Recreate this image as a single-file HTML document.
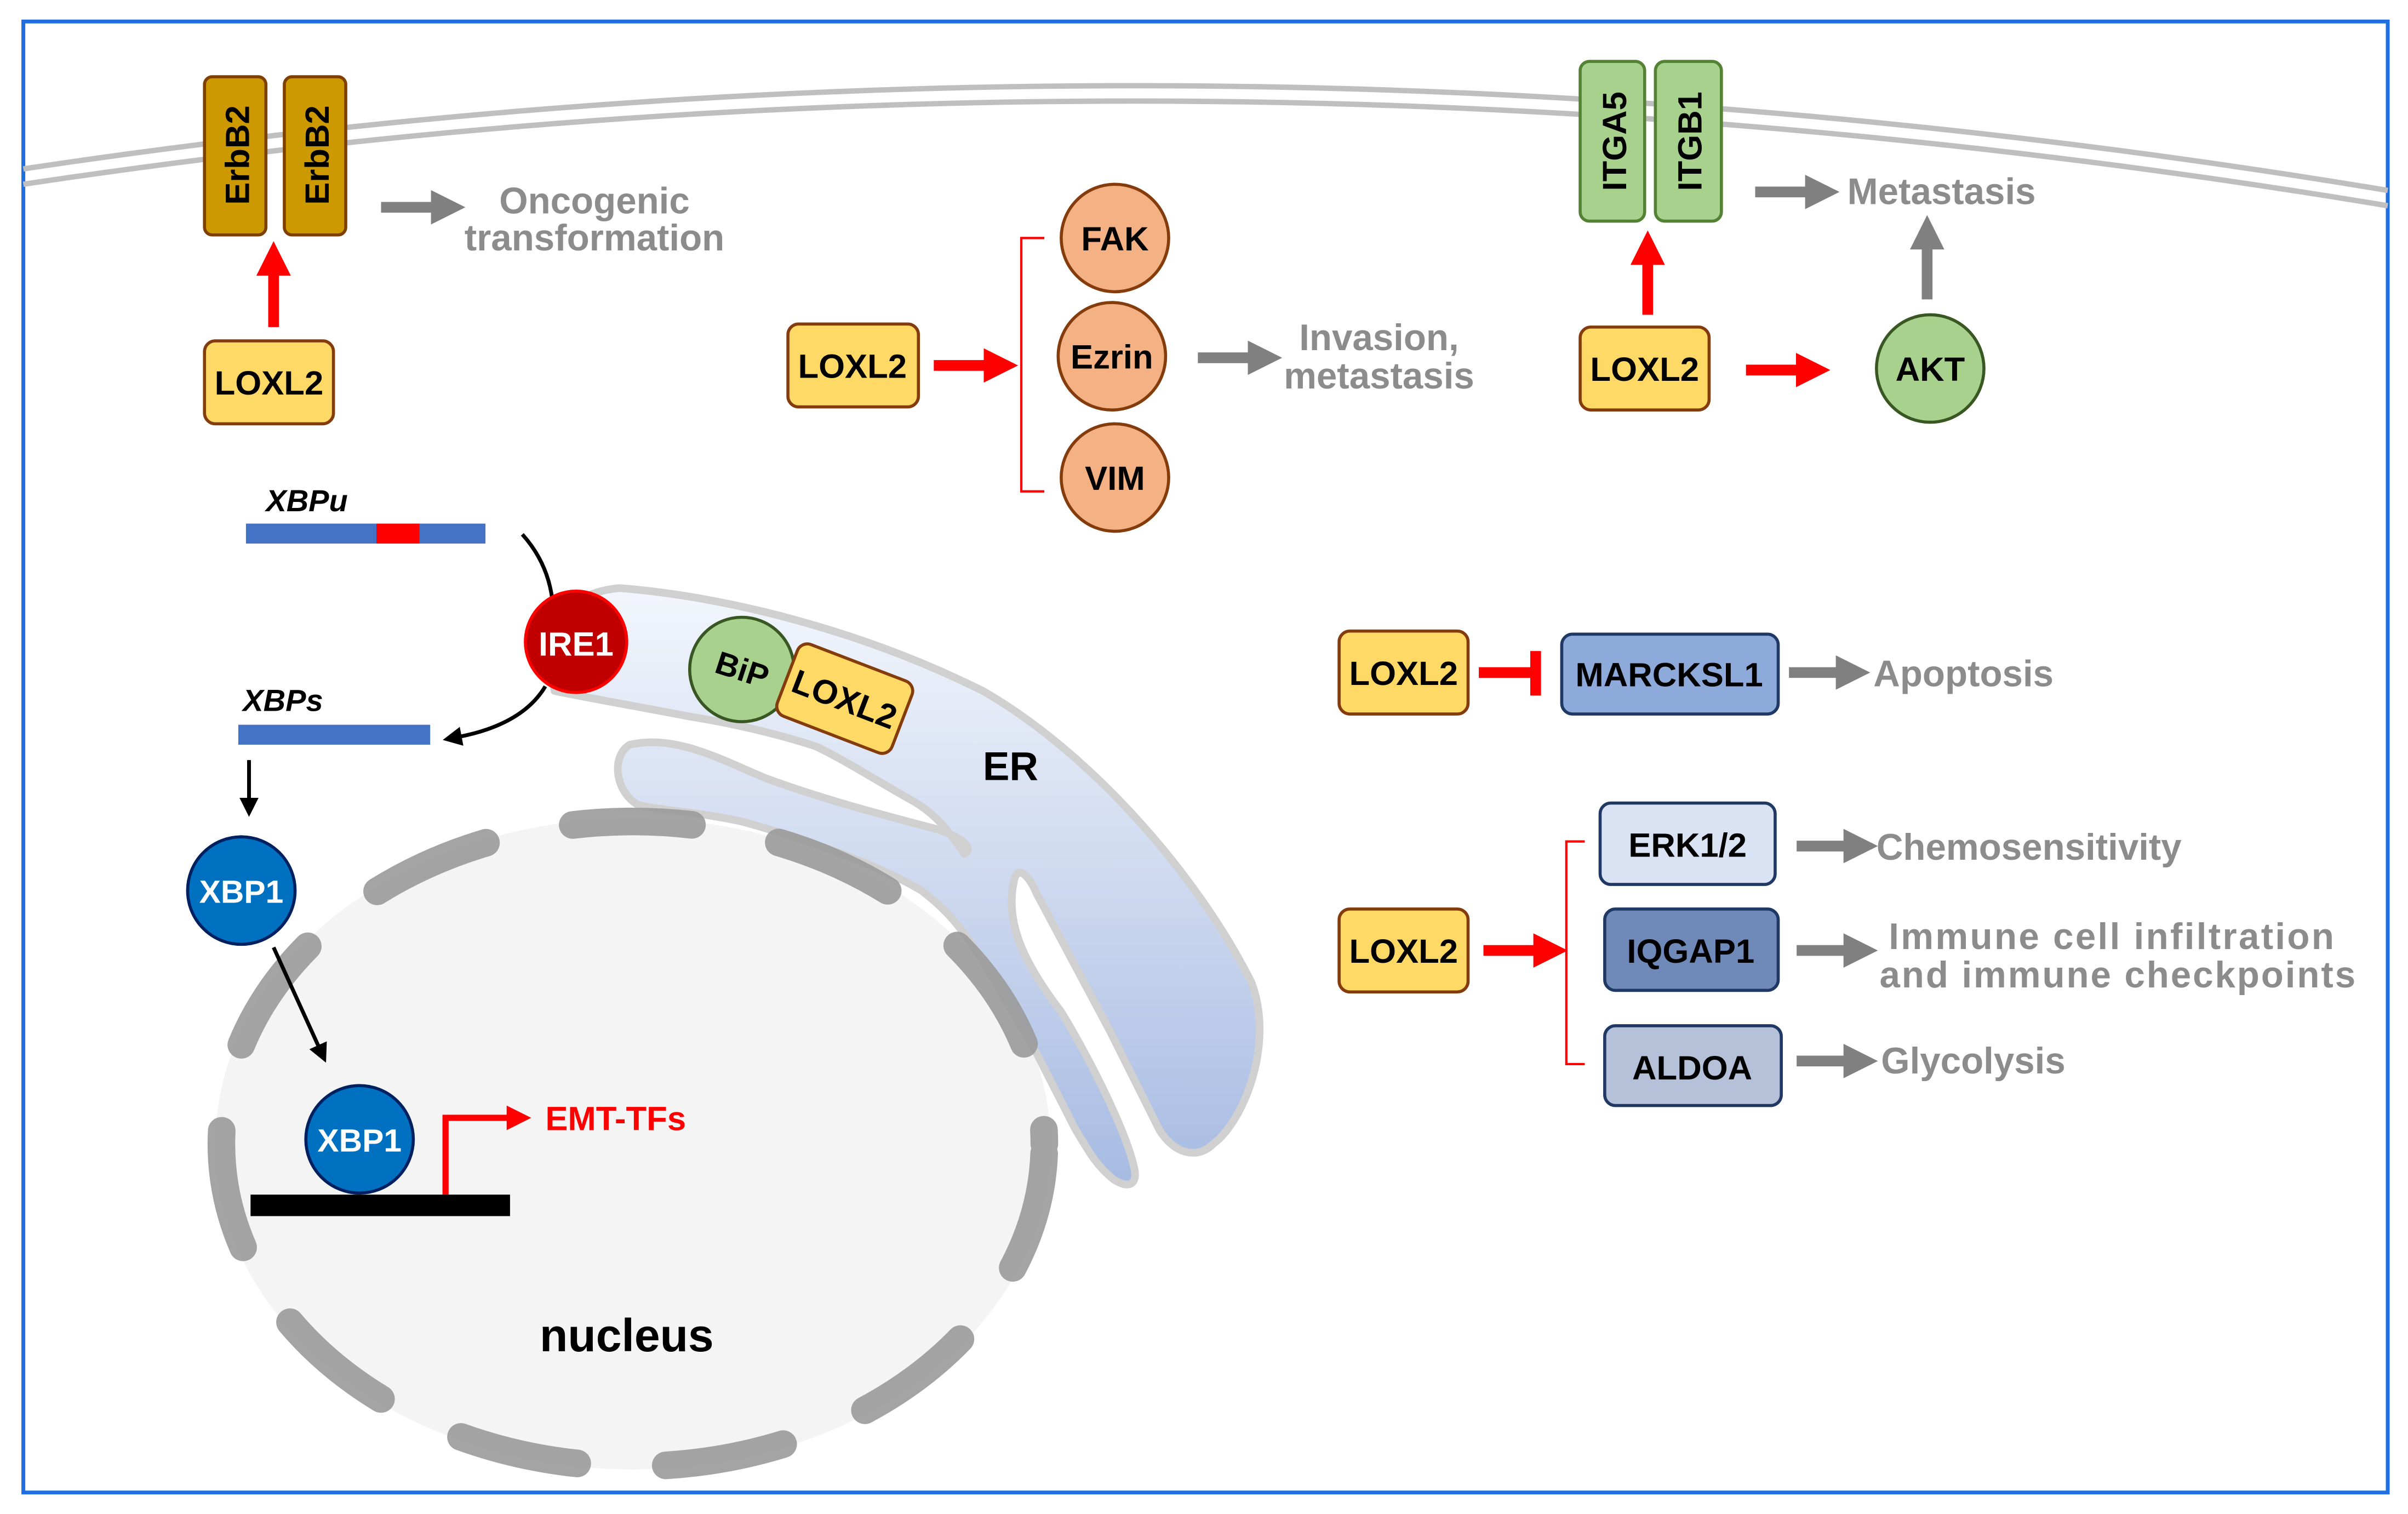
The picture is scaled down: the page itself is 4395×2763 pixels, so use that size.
<!DOCTYPE html>
<html><head><meta charset="utf-8"><style>
html,body{margin:0;padding:0;background:#fff;}
svg{display:block;}
text{font-family:"Liberation Sans",sans-serif;font-weight:bold;}
</style></head><body>
<svg width="4395" height="2763" viewBox="0 0 1568 986" xmlns="http://www.w3.org/2000/svg">
<defs>
<linearGradient id="erg" x1="0" y1="0" x2="0" y2="1"><stop offset="0" stop-color="#f3f6fc"/><stop offset="1" stop-color="#a7bbe2"/></linearGradient>
<marker id="ag" viewBox="0 0 10 10" refX="2" refY="5" markerWidth="3.2" markerHeight="3.2" orient="auto"><path d="M0,0 L10,5 L0,10 z" fill="#808080"/></marker>
<marker id="ar" viewBox="0 0 10 10" refX="2" refY="5" markerWidth="3.2" markerHeight="3.2" orient="auto"><path d="M0,0 L10,5 L0,10 z" fill="#ff0000"/></marker>
<marker id="ab" viewBox="0 0 10 10" refX="2" refY="5" markerWidth="5" markerHeight="5" orient="auto"><path d="M0,0 L10,5 L0,10 z" fill="#000"/></marker>
<marker id="ar2" viewBox="0 0 10 10" refX="2" refY="5" markerWidth="4" markerHeight="4" orient="auto"><path d="M0,0 L10,5 L0,10 z" fill="#ff0000"/></marker>
</defs>
<rect x="15" y="14" width="1540" height="958" fill="#fff" stroke="#1f6fe0" stroke-width="2.5"/>
<!-- membrane -->
<path d="M15,110 Q780,-5 1555,124" fill="none" stroke="#bfbfbf" stroke-width="3.5"/>
<path d="M15,120 Q780,5 1555,134" fill="none" stroke="#bfbfbf" stroke-width="3.5"/>

<!-- nucleus -->
<ellipse cx="412" cy="745" rx="272" ry="212" fill="#f4f4f4"/>
<!-- ER -->
<path d="M361,450 C355,420 360,387 403,383 C470,388 560,410 640,450 C710,490 780,570 815,640 C830,680 810,730 790,745 C780,755 765,752 755,736 L723,672 L675,582 C670,570 662,562 660,575 C655,600 665,625 691,659 C710,690 735,740 739,763 C740,772 734,774 725,768 C715,760 710,752 700,735 L675,686 L643,631 C630,610 620,595 600,580 C575,565 530,548 483,535 C450,528 430,528 415,524 C400,515 398,492 410,485 C440,478 470,495 499,507 C540,522 580,532 610,540 C625,545 635,552 628,556 C620,545 612,532 595,522 C570,508 550,495 531,486 C500,476 470,470 451,467 C420,461 385,455 361,450 Z" fill="url(#erg)" stroke="#d0d0d0" stroke-width="5" stroke-linejoin="round"/>
<ellipse cx="412" cy="745" rx="268" ry="210" fill="none" stroke="#9a9a9a" stroke-opacity="0.9" stroke-width="18" stroke-linecap="round" pathLength="1200" stroke-dasharray="62 46" stroke-dashoffset="-5"/>
<text x="408" y="880" font-size="30" text-anchor="middle" fill="#000">nucleus</text>
<text x="658" y="508" font-size="26" text-anchor="middle" fill="#000">ER</text>

<!-- ErbB2 -->
<rect x="133" y="50" width="40" height="103" rx="5" fill="#cc9900" stroke="#7f3f00" stroke-width="2"/>
<rect x="185" y="50" width="40" height="103" rx="5" fill="#cc9900" stroke="#7f3f00" stroke-width="2"/>
<text transform="translate(162,101) rotate(-90)" font-size="22" text-anchor="middle" fill="#000">ErbB2</text>
<text transform="translate(214,101) rotate(-90)" font-size="22" text-anchor="middle" fill="#000">ErbB2</text>
<line x1="248" y1="135" x2="285" y2="135" stroke="#808080" stroke-width="7" marker-end="url(#ag)"/>
<text x="387" y="139" font-size="24" fill="#8c8c8c" text-anchor="middle">Oncogenic</text>
<text x="387" y="163" font-size="24" fill="#8c8c8c" text-anchor="middle">transformation</text>
<line x1="178" y1="213" x2="178" y2="175" stroke="#ff0000" stroke-width="7" marker-end="url(#ar)"/>
<rect x="133" y="222" width="84" height="54" rx="7" fill="#ffd966" stroke="#843c0c" stroke-width="2"/>
<text x="175" y="257" font-size="22" text-anchor="middle">LOXL2</text>

<!-- FAK group -->
<rect x="513" y="211" width="85" height="54" rx="7" fill="#ffd966" stroke="#843c0c" stroke-width="2"/>
<text x="555" y="246" font-size="22" text-anchor="middle">LOXL2</text>
<line x1="608" y1="238" x2="645" y2="238" stroke="#ff0000" stroke-width="7" marker-end="url(#ar)"/>
<path d="M680,155 L665,155 L665,320 L680,320" fill="none" stroke="#ff0000" stroke-width="1.5"/>
<circle cx="726" cy="155" r="35" fill="#f4b183" stroke="#843c0c" stroke-width="2"/>
<circle cx="724" cy="232" r="35" fill="#f4b183" stroke="#843c0c" stroke-width="2"/>
<circle cx="726" cy="311" r="35" fill="#f4b183" stroke="#843c0c" stroke-width="2"/>
<text x="726" y="163" font-size="22" text-anchor="middle">FAK</text>
<text x="724" y="240" font-size="22" text-anchor="middle">Ezrin</text>
<text x="726" y="319" font-size="22" text-anchor="middle">VIM</text>
<line x1="780" y1="233" x2="817" y2="233" stroke="#808080" stroke-width="7" marker-end="url(#ag)"/>
<text x="898" y="228" font-size="24" fill="#8c8c8c" text-anchor="middle">Invasion,</text>
<text x="898" y="253" font-size="24" fill="#8c8c8c" text-anchor="middle">metastasis</text>

<!-- integrins -->
<rect x="1029" y="40" width="42" height="104" rx="6" fill="#a9d18e" stroke="#548235" stroke-width="2"/>
<rect x="1078" y="40" width="43" height="104" rx="6" fill="#a9d18e" stroke="#548235" stroke-width="2"/>
<text transform="translate(1059,92) rotate(-90)" font-size="22" text-anchor="middle">ITGA5</text>
<text transform="translate(1108,92) rotate(-90)" font-size="22" text-anchor="middle">ITGB1</text>
<line x1="1143" y1="125" x2="1180" y2="125" stroke="#808080" stroke-width="7" marker-end="url(#ag)"/>
<text x="1203" y="133" font-size="24" fill="#8c8c8c">Metastasis</text>
<line x1="1073" y1="205" x2="1073" y2="168" stroke="#ff0000" stroke-width="7" marker-end="url(#ar)"/>
<rect x="1029" y="213" width="84" height="54" rx="7" fill="#ffd966" stroke="#843c0c" stroke-width="2"/>
<text x="1071" y="248" font-size="22" text-anchor="middle">LOXL2</text>
<line x1="1137" y1="241" x2="1174" y2="241" stroke="#ff0000" stroke-width="7" marker-end="url(#ar)"/>
<circle cx="1257" cy="240" r="35" fill="#a9d18e" stroke="#385723" stroke-width="2"/>
<text x="1257" y="248" font-size="22" text-anchor="middle">AKT</text>
<line x1="1255" y1="195" x2="1255" y2="158" stroke="#808080" stroke-width="7" marker-end="url(#ag)"/>

<!-- MARCKSL1 -->
<rect x="872" y="411" width="84" height="54" rx="7" fill="#ffd966" stroke="#843c0c" stroke-width="2"/>
<text x="914" y="446" font-size="22" text-anchor="middle">LOXL2</text>
<line x1="963" y1="438" x2="998" y2="438" stroke="#ff0000" stroke-width="7"/>
<line x1="1000" y1="424" x2="1000" y2="453" stroke="#ff0000" stroke-width="7"/>
<rect x="1017" y="413" width="141" height="52" rx="7" fill="#8eaadb" stroke="#1f3864" stroke-width="2"/>
<text x="1087" y="447" font-size="22" text-anchor="middle">MARCKSL1</text>
<line x1="1165" y1="438" x2="1200" y2="438" stroke="#808080" stroke-width="7" marker-end="url(#ag)"/>
<text x="1220" y="447" font-size="24" fill="#8c8c8c">Apoptosis</text>

<!-- ERK group -->
<rect x="872" y="592" width="84" height="54" rx="7" fill="#ffd966" stroke="#843c0c" stroke-width="2"/>
<text x="914" y="627" font-size="22" text-anchor="middle">LOXL2</text>
<line x1="966" y1="619" x2="1003" y2="619" stroke="#ff0000" stroke-width="7" marker-end="url(#ar)"/>
<path d="M1032,548 L1020,548 L1020,693 L1032,693" fill="none" stroke="#ff0000" stroke-width="1.5"/>
<rect x="1042" y="523" width="114" height="53" rx="7" fill="#dae3f3" stroke="#1f3864" stroke-width="2"/>
<text x="1099" y="558" font-size="22" text-anchor="middle">ERK1/2</text>
<rect x="1045" y="592" width="113" height="53" rx="7" fill="#6f89b8" stroke="#1f3864" stroke-width="2"/>
<text x="1101" y="627" font-size="22" text-anchor="middle">IQGAP1</text>
<rect x="1045" y="668" width="115" height="52" rx="7" fill="#b4c1d8" stroke="#1f3864" stroke-width="2"/>
<text x="1102" y="703" font-size="22" text-anchor="middle">ALDOA</text>
<line x1="1170" y1="551" x2="1205" y2="551" stroke="#808080" stroke-width="7" marker-end="url(#ag)"/>
<line x1="1170" y1="619" x2="1205" y2="619" stroke="#808080" stroke-width="7" marker-end="url(#ag)"/>
<line x1="1170" y1="691" x2="1205" y2="691" stroke="#808080" stroke-width="7" marker-end="url(#ag)"/>
<text x="1222" y="560" font-size="24" fill="#8c8c8c">Chemosensitivity</text>
<text x="1230" y="618" font-size="24" fill="#8c8c8c" textLength="290">Immune cell infiltration</text>
<text x="1224" y="643" font-size="24" fill="#8c8c8c" textLength="310">and immune checkpoints</text>
<text x="1225" y="699" font-size="24" fill="#8c8c8c">Glycolysis</text>

<!-- XBP -->
<text x="173" y="333" font-size="20" font-style="italic">XBPu</text>
<rect x="160" y="341" width="156" height="13" fill="#4472c4"/>
<rect x="245" y="341" width="28" height="13" fill="#ff0000"/>
<path d="M340,348 Q358,368 360,395" fill="none" stroke="#000" stroke-width="2.5"/>
<circle cx="375" cy="418" r="33" fill="#c00000" stroke="#ff0000" stroke-width="2"/>
<text x="375" y="427" font-size="22" fill="#fff" text-anchor="middle">IRE1</text>
<path d="M355,447 Q340,472 298,480" fill="none" stroke="#000" stroke-width="2.5" marker-end="url(#ab)"/>
<text x="158" y="463" font-size="20" font-style="italic">XBPs</text>
<rect x="155" y="472" width="125" height="13" fill="#4472c4"/>
<line x1="162" y1="495" x2="162" y2="522" stroke="#000" stroke-width="2.5" marker-end="url(#ab)"/>
<circle cx="157" cy="580" r="35" fill="#0070c0" stroke="#002060" stroke-width="2"/>
<text x="157" y="588" font-size="21" fill="#fff" text-anchor="middle">XBP1</text>
<line x1="178" y1="617" x2="208" y2="683" stroke="#000" stroke-width="2.5" marker-end="url(#ab)"/>
<circle cx="234" cy="742" r="35" fill="#0070c0" stroke="#002060" stroke-width="2"/>
<text x="234" y="750" font-size="21" fill="#fff" text-anchor="middle">XBP1</text>
<rect x="163" y="778" width="169" height="14" fill="#000"/>
<path d="M290,778 L290,728 L333,728" fill="none" stroke="#ff0000" stroke-width="4" marker-end="url(#ar2)"/>
<text x="355" y="736" font-size="22" fill="#ff0000">EMT-TFs</text>

<!-- BiP LOXL2 -->
<circle cx="483" cy="436" r="34" fill="#a9d18e" stroke="#385723" stroke-width="2"/>
<text transform="translate(481,443) rotate(18)" font-size="21" text-anchor="middle">BiP</text>
<g transform="translate(550,455) rotate(21)">
<rect x="-40" y="-25" width="80" height="50" rx="7" fill="#ffd966" stroke="#843c0c" stroke-width="2"/>
<text x="0" y="8" font-size="22" text-anchor="middle">LOXL2</text>
</g>
</svg>
</body></html>
